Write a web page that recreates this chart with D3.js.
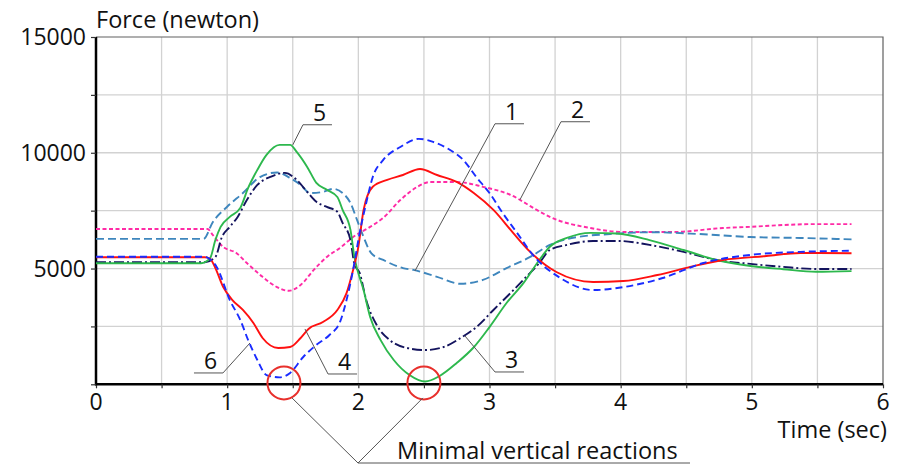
<!DOCTYPE html>
<html><head><meta charset="utf-8">
<script src="https://cdn.jsdelivr.net/npm/d3@7"></script>
<style>
html,body{margin:0;padding:0;background:#fff;}
svg{display:block;font-family:"Open Sans",sans-serif;}
</style></head>
<body><svg id="c" width="900" height="466"></svg>
<script>
// ---- data (time in sec, force in newton) ----
const xTicks = [0,1,2,3,4,5,6];
const yTickLabels = [5000,10000,15000];

const s1_t = [0,0.82,0.89,1.0,1.12,1.25,1.38,1.48,1.56,1.63,1.73,1.81,1.88,1.94,1.99,2.04,2.10,2.19,2.34,2.42,2.60,2.78,2.95,3.13,3.31,3.46,3.67,3.92,4.22,4.60,4.99,5.37,5.76];
const s1_v = [6280,6280,7000,7670,8260,8950,9150,8910,8610,8260,8310,8440,8260,7830,7100,6360,5650,5370,5020,4940,4640,4340,4510,5020,5500,6020,6360,6490,6570,6490,6360,6320,6260];

const s2_t = [0,0.85,0.89,0.97,1.07,1.15,1.27,1.38,1.47,1.56,1.66,1.76,1.86,1.96,2.09,2.19,2.32,2.45,2.55,2.75,2.95,3.16,3.36,3.46,3.77,4.02,4.40,4.78,4.99,5.24,5.49,5.76];
const s2_v = [6710,6710,6450,5930,5670,5240,4640,4200,4040,4290,4940,5500,5890,6360,6800,7190,7960,8530,8740,8740,8530,8180,7530,7230,6750,6580,6580,6750,6800,6880,6920,6920];

const s3_t = [0,0.83,0.91,0.96,1.02,1.08,1.15,1.23,1.33,1.44,1.53,1.61,1.68,1.76,1.84,1.88,1.94,1.97,2.01,2.06,2.14,2.24,2.37,2.51,2.65,2.78,2.90,3.03,3.16,3.28,3.38,3.46,3.59,3.79,3.99,4.22,4.48,4.73,4.99,5.24,5.49,5.76];
const s3_v = [5270,5270,5500,6360,6800,7230,7960,8610,8960,9130,8830,8310,7880,7660,7450,6970,6230,5200,4810,3640,2560,1910,1570,1480,1610,2000,2470,3210,3940,4640,5240,5800,6020,6190,6190,6020,5720,5370,5200,5070,4980,4980];

const s4_t = [0,0.83,0.87,0.91,0.97,1.04,1.12,1.20,1.27,1.39,1.48,1.56,1.62,1.73,1.84,1.91,1.96,2.0,2.04,2.11,2.22,2.34,2.47,2.60,2.75,2.88,3.03,3.18,3.31,3.51,3.79,4.02,4.28,4.53,4.78,5.11,5.37,5.76];
const s4_v = [5490,5490,5420,5020,4200,3640,3210,2650,2000,1570,1610,2000,2390,2690,3210,3940,4940,5930,7530,8530,8830,9040,9300,9040,8740,8260,7530,6540,5720,4850,4420,4460,4720,5070,5370,5540,5670,5660];

const s5_t = [0,0.80,0.87,0.91,0.95,1.02,1.10,1.16,1.23,1.30,1.40,1.48,1.53,1.61,1.68,1.76,1.84,1.88,1.94,1.97,2.04,2.09,2.17,2.27,2.39,2.51,2.62,2.75,2.88,3.00,3.13,3.26,3.38,3.46,3.59,3.77,3.97,4.22,4.48,4.73,4.99,5.24,5.49,5.76];
const s5_v = [5230,5230,5450,6230,6800,7230,7620,8480,9260,9910,10340,10340,10040,9390,8700,8400,8090,7530,6670,5500,4070,2910,1910,1050,400,120,360,920,1600,2470,3510,4380,5370,5940,6320,6540,6510,6230,5800,5370,5110,4970,4860,4890];

const s6_t = [0,0.83,0.87,0.92,1.02,1.10,1.16,1.23,1.30,1.40,1.48,1.58,1.68,1.78,1.86,1.91,1.96,2.01,2.06,2.11,2.19,2.32,2.46,2.57,2.70,2.80,2.90,3.0,3.10,3.21,3.33,3.54,3.79,4.02,4.32,4.63,4.99,5.37,5.76];
const s6_v = [5510,5510,5400,5070,3640,2780,1910,1050,400,300,490,1180,1700,2130,2690,3640,4940,6540,7830,8950,9690,10250,10600,10470,10120,9690,8950,8260,7400,6540,5590,4590,4070,4200,4590,5240,5590,5720,5770];

const seriesNames = ["1","2","3","4","5","6"];
const seriesColors = ["#3e86bd","#ff2ba6","#14145e","#ff1010","#2db84d","#1a2cff"];
const seriesDash = ["8,4","4,2.5","10,3,2,3",null,null,"7,4"];

// ---- chart ----
const svg = d3.select("#c");
const x = d3.scaleLinear().domain([0,6]).range([96,883]);
const y = d3.scaleLinear().domain([0,15000]).range([384.3,37]);

// grid
const g = svg.append("g");
g.selectAll(".vg").data(d3.range(0.5,6,0.5)).join("line")
  .attr("x1",d=>x(d)).attr("x2",d=>x(d)).attr("y1",y(0)).attr("y2",y(15000))
  .attr("stroke","#d2d2d2").attr("stroke-width",1.3);
g.selectAll(".hg").data(d3.range(2500,15000,2500)).join("line")
  .attr("x1",x(0)).attr("x2",x(6)).attr("y1",d=>y(d)).attr("y2",d=>y(d))
  .attr("stroke","#d2d2d2").attr("stroke-width",1.3);
// top/right frame
svg.append("path").attr("d",`M${x(0)},${y(15000)}H${x(6)}V${y(0)}`)
  .attr("fill","none").attr("stroke","#606060").attr("stroke-width",1.2);

// axes
const xAxis = d3.axisBottom(x).tickValues(d3.range(0,6.01,0.5)).tickSize(4).tickFormat("");
const yAxis = d3.axisLeft(y).tickValues(d3.range(0,15001,2500)).tickSize(5).tickFormat("");
const xa = svg.append("g").attr("transform",`translate(0,${y(0)})`).call(xAxis);
const ya = svg.append("g").attr("transform",`translate(${x(0)},0)`).call(yAxis);
xa.select(".domain").attr("stroke","#000").attr("stroke-width",2.5).attr("d",`M${x(0)-1},0H${x(6)}`);
ya.select(".domain").attr("stroke","#000").attr("stroke-width",2.5).attr("d",`M0,${y(15000)}V${y(0)+1}`);
xa.selectAll(".tick line").attr("stroke","#333").attr("stroke-width",1.2);
ya.selectAll(".tick line").attr("stroke","#333").attr("stroke-width",1.2);

svg.selectAll(".xl").data(xTicks).join("text")
  .attr("x",d=>x(d)).attr("y",y(0)+26).attr("text-anchor","middle")
  .attr("font-size",23).attr("fill","#111").text(d=>d);
svg.selectAll(".yl").data(yTickLabels).join("text")
  .attr("x",x(0)-10).attr("y",d=>y(d)+8).attr("text-anchor","end")
  .attr("font-size",23).attr("fill","#111").text(d=>d);

svg.append("text").attr("x",x(0)).attr("y",28).attr("font-size",23.5).attr("fill","#111").text("Force (newton)");
svg.append("text").attr("x",887).attr("y",438).attr("text-anchor","end").attr("font-size",23.5).attr("fill","#111").text("Time (sec)");

// series
const ts = [s1_t,s2_t,s3_t,s4_t,s5_t,s6_t];
const vs = [s1_v,s2_v,s3_v,s4_v,s5_v,s6_v];
const line = d3.line().x(d=>x(d[0])).y(d=>y(d[1])).curve(d3.curveMonotoneX);
const order = [1,0,2,4,3,5];
order.forEach(i=>{
  const pts = ts[i].map((t,k)=>[t,vs[i][k]]);
  svg.append("path").attr("d",line(pts)).attr("fill","none")
    .attr("stroke",seriesColors[i]).attr("stroke-width",1.9)
    .attr("stroke-dasharray",seriesDash[i]);
});

// series labels: anchor on curve (t,v), elbow (t,v), side of underline
const labAnchorT = [2.432,3.232,2.813,1.593,1.50,1.174];
const labAnchorV = [4900,7970,2088,2390,10340,1785];
const labElbowT  = [3.042,3.545,3.042,1.769,1.578,0.968];
const labElbowV  = [11252,11340,532,445,11210,490];
const labSide    = [1,1,1,1,1,-1];
const ann = svg.append("g");
seriesNames.forEach((nm,i)=>{
  const ax=x(labAnchorT[i]), ay=y(labAnchorV[i]), ex=x(labElbowT[i]), ey=y(labElbowV[i]);
  const ux = ex + labSide[i]*29;
  ann.append("path").attr("d",`M${ax},${ay}L${ex},${ey}L${ux},${ey}`)
    .attr("fill","none").attr("stroke","#555").attr("stroke-width",1);
  ann.append("text").attr("x",(ex+ux)/2+2).attr("y",ey-4).attr("text-anchor","middle")
    .attr("font-size",23).attr("fill","#111").text(nm);
});

// minimal vertical reactions
const minT = [1.433,2.50];
const minV = [60,60];
minT.forEach((t,k)=>{
  ann.append("circle").attr("cx",x(t)).attr("cy",y(minV[k])).attr("r",16.5)
    .attr("fill","none").attr("stroke","#e8302c").attr("stroke-width",2);
});
const jx = 358, jy = 463;
ann.append("path").attr("d",`M${x(minT[0])+8},${y(minV[0])+15}L${jx},${jy}L${x(minT[1])-1},${y(minV[1])+15}M${jx},${jy}H690`)
  .attr("fill","none").attr("stroke","#555").attr("stroke-width",1);
ann.append("text").attr("x",397).attr("y",459).attr("font-size",23.5).attr("fill","#111").text("Minimal vertical reactions");
</script></body></html>
